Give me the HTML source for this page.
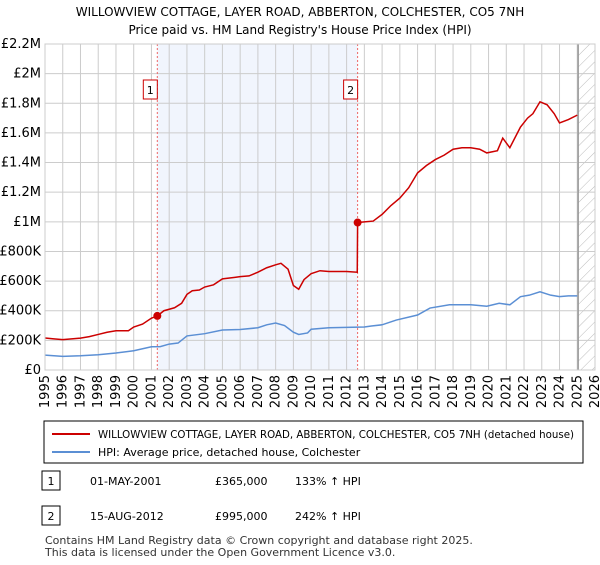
<!DOCTYPE html>
<html><head><meta charset="utf-8"><style>
body{margin:0;background:#fff;font-family:"Liberation Sans","DejaVu Sans",sans-serif;}
svg text{font-family:"DejaVu Sans","Liberation Sans",sans-serif;}
</style></head><body>
<svg id="c" width="600" height="560" xmlns="http://www.w3.org/2000/svg"></svg>
<script>
const yTicks=[0,200000,400000,600000,800000,1000000,1200000,1400000,1600000,1800000,2000000,2200000];
const yTickLabels=["£0","£200K","£400K","£600K","£800K","£1M","£1.2M","£1.4M","£1.6M","£1.8M","£2M","£2.2M"];
const xYears=[1995,1996,1997,1998,1999,2000,2001,2002,2003,2004,2005,2006,2007,2008,2009,2010,2011,2012,2013,2014,2015,2016,2017,2018,2019,2020,2021,2022,2023,2024,2025,2026];
const redX=[1995,1995.5,1996,1997,1997.5,1998,1998.5,1999,1999.7,2000,2000.5,2001,2001.33,2001.7,2002.3,2002.7,2003,2003.3,2003.7,2004,2004.5,2005,2005.7,2006,2006.5,2007,2007.5,2008,2008.3,2008.7,2009,2009.3,2009.6,2010,2010.5,2011,2011.5,2012,2012.6,2012.62,2013,2013.5,2014,2014.5,2015,2015.5,2016,2016.5,2017,2017.5,2018,2018.5,2019,2019.5,2019.9,2020.5,2020.8,2021.2,2021.8,2022.2,2022.5,2022.9,2023.3,2023.7,2024,2024.5,2025];
const redY=[216,210,205,215,225,240,255,265,265,290,310,350,365,400,420,450,510,535,540,560,575,615,625,630,635,660,690,710,720,680,570,545,610,650,670,665,665,665,660,995,1000,1005,1050,1110,1160,1230,1330,1380,1420,1450,1490,1500,1500,1490,1465,1480,1565,1500,1640,1700,1730,1810,1790,1730,1667,1690,1720];
const blueX=[1995,1996,1997,1998,1999,2000,2001,2001.5,2002,2002.5,2003,2004,2005,2006,2007,2007.5,2008,2008.5,2009,2009.3,2009.8,2010,2011,2012,2013,2013.4,2014,2014.8,2016,2016.7,2017.8,2019,2019.9,2020.6,2021.2,2021.8,2022.3,2022.9,2023.5,2024,2024.5,2025];
const blueY=[100,92,96,103,115,130,157,158,175,182,230,245,270,273,285,305,317,300,255,240,250,275,285,288,290,297,305,337,371,418,440,440,430,450,440,495,505,528,505,495,500,500];
const sales=[[2001.33,365000,"1"],[2012.62,995000,"2"]];
const NS="http://www.w3.org/2000/svg",svg=document.getElementById('c');
const L=45,R=595,T=44,B=370;
const xs=y=>L+(y-1995)*(R-L)/31, ys=v=>B-v*(B-T)/2200000;
function mk(t,a,p){const e=document.createElementNS(NS,t);for(const k in a)e.setAttribute(k,a[k]);(p||svg).appendChild(e);return e;}
function tx(x,y,s,a){const e=mk('text',Object.assign({x:x,y:y,'font-size':12,fill:'#000'},a||{}));e.textContent=s;return e;}
let t=tx(300,16,"WILLOWVIEW COTTAGE, LAYER ROAD, ABBERTON, COLCHESTER, CO5 7NH",{'text-anchor':'middle'});

t=tx(300,34,"Price paid vs. HM Land Registry's House Price Index (HPI)",{'text-anchor':'middle'});

let sh=mk('rect',{x:xs(2001.33),y:T,width:xs(2012.62)-xs(2001.33),height:B-T,fill:'#eef3fc',opacity:0.8});

const defs=mk('defs',{});const pat=mk('pattern',{id:'h',width:8,height:8,patternUnits:'userSpaceOnUse',patternTransform:'rotate(45)'},defs);
mk('line',{x1:0,y1:0,x2:0,y2:8,stroke:'#bbb','stroke-width':1},pat);
let hz=mk('rect',{x:xs(2025.05),y:T,width:R-xs(2025.05),height:B-T,fill:'url(#h)'});

yTicks.forEach((v,i)=>{const g=mk('line',{x1:L,x2:R,y1:ys(v),y2:ys(v),stroke:'#ccc'});

const l=tx(L-4,ys(v)+4,yTickLabels[i],{'text-anchor':'end','font-size':13});
});
xYears.forEach(y=>{const g=mk('line',{x1:xs(y),x2:xs(y),y1:T,y2:B,stroke:'#ccc'});

const l=tx(xs(y)+4,B+5,String(y),{'text-anchor':'end','font-size':13,transform:`rotate(-90 ${xs(y)+4} ${B+5})`});
});
let vl=mk('line',{x1:xs(2025.05),x2:xs(2025.05),y1:T,y2:B,stroke:'#999','stroke-width':1.5});

sales.forEach(s=>{const d=mk('line',{x1:xs(s[0]),x2:xs(s[0]),y1:T,y2:B,stroke:'#e66','stroke-dasharray':'2,2'});

const bx=mk('rect',{x:xs(s[0])-14,y:80,width:14,height:19,fill:'#fff',stroke:'#c00'});

tx(xs(s[0])-7,94,s[2],{'text-anchor':'middle','font-size':11});});
let p=mk('polyline',{points:blueX.map((x,i)=>xs(x)+','+ys(blueY[i]*1000)).join(' '),fill:'none',stroke:'#5b8fd4','stroke-width':1.5});

p=mk('polyline',{points:redX.map((x,i)=>xs(x)+','+ys(redY[i]*1000)).join(' '),fill:'none',stroke:'#cc0000','stroke-width':1.5});

sales.forEach(s=>{const c=mk('circle',{cx:xs(s[0]),cy:ys(s[1]),r:4,fill:'#cc0000'});
});
let fr=mk('rect',{x:L,y:T,width:R-L,height:B-T,fill:'none',stroke:'#ccc'});

let lg=mk('rect',{x:44,y:421,width:539,height:42,fill:'#fff',stroke:'#000'});

mk('line',{x1:52,x2:90,y1:434,y2:434,stroke:'#cc0000','stroke-width':2});
t=tx(98,438,"WILLOWVIEW COTTAGE, LAYER ROAD, ABBERTON, COLCHESTER, CO5 7NH (detached house)",{'font-size':11,textLength:476,lengthAdjust:'spacingAndGlyphs'});

mk('line',{x1:52,x2:90,y1:452,y2:452,stroke:'#5b8fd4','stroke-width':2});
t=tx(98,456,"HPI: Average price, detached house, Colchester",{'font-size':11});

[["1","01-MAY-2001","£365,000","133% ↑ HPI",481],["2","15-AUG-2012","£995,000","242% ↑ HPI",516]].forEach(r=>{
const b=mk('rect',{x:42,y:r[4]-10,width:18,height:19,fill:'#fff',stroke:'#000'});

tx(51,r[4]+4,r[0],{'text-anchor':'middle','font-size':11});
let a=tx(90,r[4]+4,r[1],{'font-size':11});
a=tx(215,r[4]+4,r[2],{'font-size':11});
a=tx(295,r[4]+4,r[3],{'font-size':11});});
t=tx(45,544,"Contains HM Land Registry data © Crown copyright and database right 2025.",{'font-size':11,fill:'#333'});

t=tx(45,556,"This data is licensed under the Open Government Licence v3.0.",{'font-size':11,fill:'#333'});

</script>
</body></html>
